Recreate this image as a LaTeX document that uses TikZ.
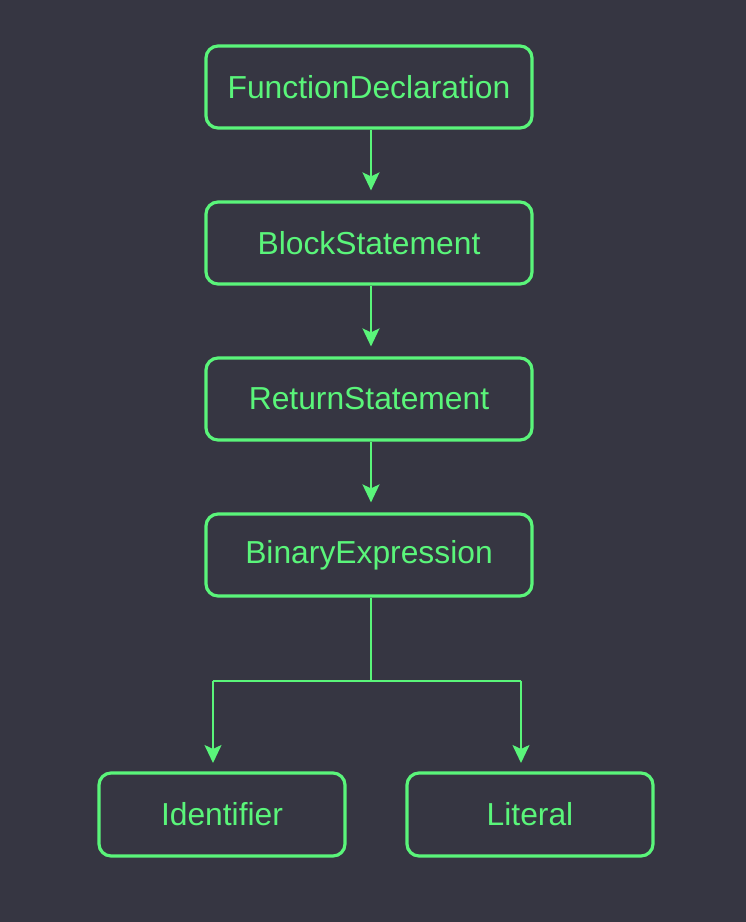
\documentclass[tikz,border=0pt]{standalone}
\usepackage{fontspec}
\setmainfont{Liberation Sans}
\usetikzlibrary{arrows.meta}
\definecolor{bg}{HTML}{363642}
\definecolor{gr}{HTML}{5AF57A}
\begin{document}
\begin{tikzpicture}[x=1pt,y=-1pt,
  box/.style={draw=gr,line width=3.2pt,rounded corners=12pt,text=gr,
    font=\fontsize{31.8}{36}\selectfont,inner sep=0pt},
  conn/.style={draw=gr,line width=2pt,-{Stealth[length=18pt,width=17pt,inset=4pt]}},
  plain/.style={draw=gr,line width=2pt}]
\fill[bg] (0,0) rectangle (746,922);
\useasboundingbox (0,0) rectangle (746,922);
\node[box,minimum width=326pt,minimum height=82pt] (fd) at (369,87) {FunctionDeclaration};
\node[box,minimum width=326pt,minimum height=82pt] (bs) at (369,243) {BlockStatement};
\node[box,minimum width=326pt,minimum height=82pt] (rs) at (369,399) {ReturnStatement};
\node[box,minimum width=326pt,minimum height=82pt] (be) at (369,555) {BinaryExpression};
\node[box,minimum width=246pt,minimum height=83pt] (id) at (222,814.5) {Identifier};
\node[box,minimum width=246pt,minimum height=83pt] (li) at (530,814.5) {Literal};
\coordinate (j) at (371,681);
\coordinate (jl) at (213,681);
\coordinate (jr) at (521,681);
\coordinate (el) at (213,763);
\coordinate (er) at (521,763);
\draw[conn] (fd.south -| j) -- ([yshift=10pt]bs.north -| j);
\draw[conn] (bs.south -| j) -- ([yshift=10pt]rs.north -| j);
\draw[conn] (rs.south -| j) -- ([yshift=10pt]be.north -| j);
\draw[plain] (be.south -| j) -- (j);
\draw[plain] (jl) -- (jr);
\draw[conn] (jl) -- (el);
\draw[conn] (jr) -- (er);
\end{tikzpicture}
\end{document}
